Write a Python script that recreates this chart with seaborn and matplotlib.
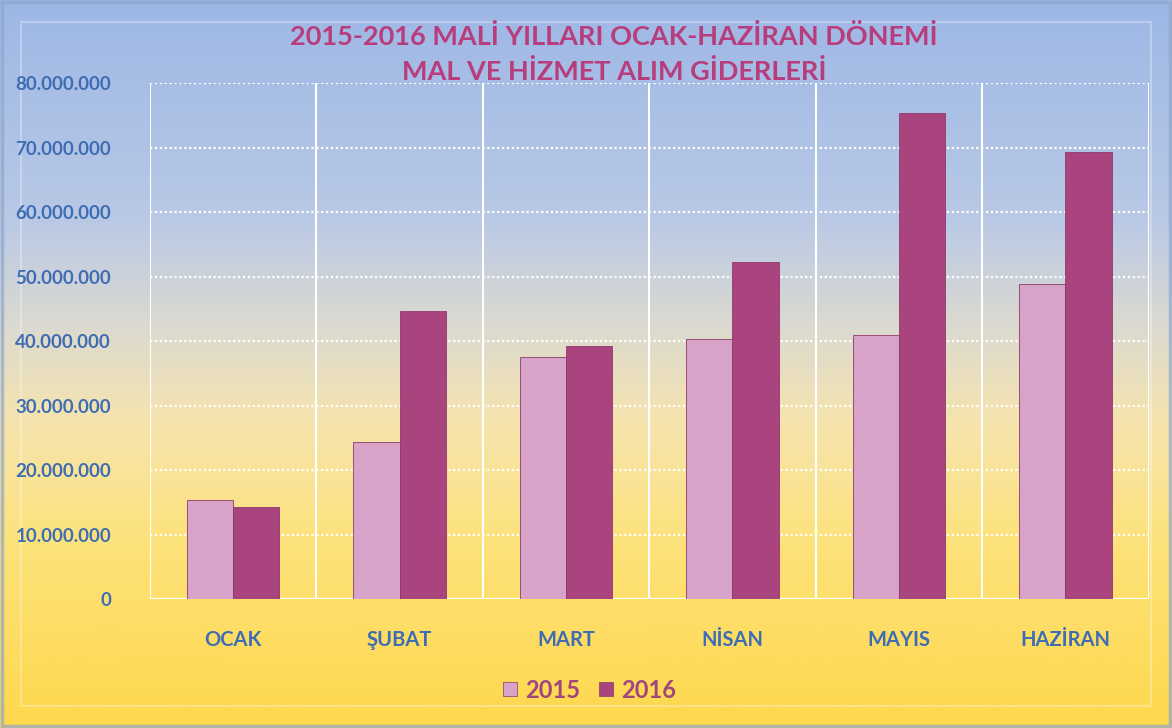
import numpy as np
import pandas as pd
import seaborn as sns
import matplotlib.pyplot as plt
from matplotlib.colors import LinearSegmentedColormap
from matplotlib.ticker import FuncFormatter, FixedLocator
from matplotlib.lines import Line2D

# Data
months = ["OCAK", "ŞUBAT", "MART", "NİSAN", "MAYIS", "HAZİRAN"]
values_2015 = [15300000, 24300000, 37500000, 40300000, 40900000, 48800000]
values_2016 = [14300000, 44600000, 39200000, 52200000, 75300000, 69300000]
years = ["2015", "2016"]

df = pd.DataFrame({
    "ay": months * 2,
    "yil": [years[0]] * len(months) + [years[1]] * len(months),
    "tutar": values_2015 + values_2016,
})

sns.set_theme(style="white")
plt.rcParams["font.family"] = ["Lato", "DejaVu Sans"]

bar_colors = {"2015": "#d7a3c9", "2016": "#a9447f"}
tick_color = "#3e6db3"
title_color = "#b83d7d"

fig = plt.figure(figsize=(11.72, 7.28), dpi=100)

# gradient background (blue top -> yellow bottom)
bg = fig.add_axes([0, 0, 1, 1], zorder=0)
cmap = LinearSegmentedColormap.from_list(
    "bg", [(0.0, "#9db7e5"), (0.3, "#b9c9e6"), (0.45, "#dcdad0"),
           (0.58, "#f6e4ae"), (0.75, "#fde27a"), (1.0, "#fdd84c")])
grad = np.linspace(0, 1, 256).reshape(-1, 1)
bg.imshow(grad, aspect="auto", cmap=cmap, extent=[0, 1, 0, 1], origin="upper")
bg.set_xlim(0, 1)
bg.set_ylim(0, 1)
bg.axis("off")
bg.add_patch(plt.Rectangle((0.002, 0.003), 0.996, 0.994, fill=False,
                           edgecolor="#8fa6cc", lw=2.5, alpha=0.7))
bg.add_patch(plt.Rectangle((0.018, 0.03), 0.964, 0.94, fill=False,
                           edgecolor="white", lw=1.5, alpha=0.3))

ax = fig.add_axes([0.128, 0.177, 0.852, 0.709], zorder=1)
ax.patch.set_alpha(0)

sns.barplot(data=df, x="ay", y="tutar", hue="yil", palette=bar_colors,
            width=0.555, gap=0, ax=ax, legend=False, saturation=1,
            edgecolor="#8e3a6a", linewidth=0.6)

ax.set_ylim(0, 80000000)
ax.set_xlim(-0.5, len(months) - 0.5)
ax.set_yticks(np.arange(0, 80000001, 10000000))
ax.yaxis.set_major_formatter(FuncFormatter(lambda v, p: f"{int(v):,}".replace(",", ".")))
ax.xaxis.set_minor_locator(FixedLocator(np.arange(-0.5, len(months), 1.0)))

ax.grid(axis="y", which="major", color="white", linestyle=(0, (1, 1.2)), lw=1.6)
ax.grid(axis="x", which="minor", color="white", linestyle="-", lw=1.5)
ax.grid(axis="x", which="major", visible=False)
ax.set_axisbelow(True)
for s in ax.spines.values():
    s.set_visible(False)
ax.axhline(0, color="white", lw=1.5, zorder=0.5)

ax.set_xlabel("")
ax.set_ylabel("")
ax.tick_params(axis="y", colors=tick_color, labelsize=13.5, length=0, pad=28)
ax.tick_params(axis="x", colors=tick_color, labelsize=14.5, length=0, pad=22)
for lbl in ax.get_yticklabels() + ax.get_xticklabels():
    lbl.set_fontweight("bold")

fig.text(0.524, 0.95, "2015-2016 MALİ YILLARI OCAK-HAZİRAN DÖNEMİ",
         ha="center", va="center", fontsize=19.5, fontweight="bold", color=title_color)
fig.text(0.524, 0.902, "MAL VE HİZMET ALIM GİDERLERİ",
         ha="center", va="center", fontsize=19.5, fontweight="bold", color=title_color)

handles = [Line2D([0], [0], marker="s", linestyle="", markersize=10,
                  markerfacecolor=bar_colors[y], markeredgecolor="#8e3a6a", markeredgewidth=0.5)
           for y in years]
leg = fig.legend(handles, years, loc="center", bbox_to_anchor=(0.5, 0.052), ncol=2,
                 frameon=False, handletextpad=0.05, columnspacing=0.5, handlelength=1.2,
                 prop={"size": 17, "weight": "bold"})
for t in leg.get_texts():
    t.set_color("#a0457e")

fig.savefig("out.png", dpi=100)
